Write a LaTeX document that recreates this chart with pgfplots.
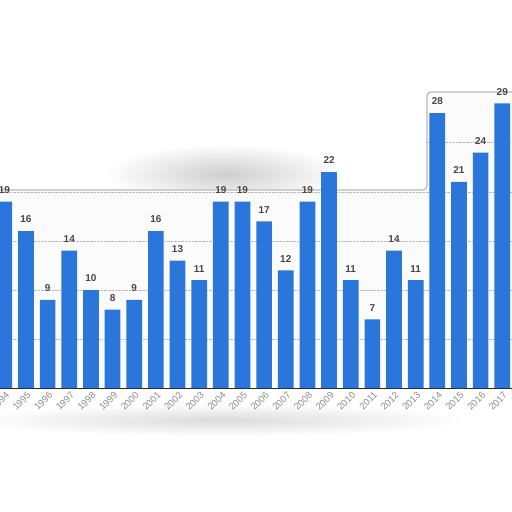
\documentclass[border=0pt]{standalone}
\usepackage{pgfplots}
\pgfplotsset{compat=1.18}
\usepackage{fontspec}
\setmainfont{Liberation Sans}
\definecolor{barblue}{HTML}{2B76DB}
\definecolor{labgray}{HTML}{474747}
\definecolor{tickgray}{HTML}{8A8A8A}
\newcommand{\yl}[1]{\mbox{#1}}
\begin{document}
\begin{tikzpicture}[x=1pt,y=1pt]
\useasboundingbox (0,0) rectangle (512,512);
\clip (0,0) rectangle (512,512);
% blurred shadow pieces
\begin{scope}
\clip (0,322) rectangle (427,420);
\shade[inner color=gray!38, outer color=white] (225,338) ellipse (120 and 30);
\end{scope}
\shade[inner color=gray!28, outer color=white] (220,92) ellipse (250 and 16);
\fill[gray!3] (0,126) rectangle (427,322);
\fill[gray!3] (427,126) rectangle (512,420);
\draw[gray!55, line width=1.2pt, rounded corners=4pt] (0,322) -- (427,322) -- (427,420) -- (512,420);
\begin{axis}[
  at={(0,126)}, anchor=south west,
  scale only axis, width=512pt, height=386pt,
  xmin=-0.2, xmax=23.45, ymin=0, ymax=39.3,
  ybar, bar width=15.7pt,
  axis x line*=bottom, axis y line*=left,
  y axis line style={draw=none},
  x axis line style={black!85, line width=0.9pt},
  ytick={5,10,15,20}, yticklabels={},
  ytick style={draw=none}, xtick style={draw=none},
  ymajorgrids, major grid style={densely dotted, gray!55},
  xtick={0,...,23},
  xticklabels={\yl{1994},\yl{1995},\yl{1996},\yl{1997},\yl{1998},\yl{1999},\yl{2000},\yl{2001},\yl{2002},\yl{2003},\yl{2004},\yl{2005},\yl{2006},\yl{2007},\yl{2008},\yl{2009},\yl{2010},\yl{2011},\yl{2012},\yl{2013},\yl{2014},\yl{2015},\yl{2016},\yl{2017}},
  xticklabel style={rotate=45, anchor=east, text=tickgray, font=\fontsize{9.5}{9.5}\selectfont, xshift=5pt, yshift=-3pt},
  nodes near coords={\pgfmathprintnumber[assume math mode=true]{\pgfplotspointmeta}},
  every node near coord/.append style={text=labgray, font=\bfseries\fontsize{10}{10}\selectfont, inner sep=0pt, yshift=8pt},
]
\draw[densely dotted, gray!55] (axis cs:19.5,25) -- (axis cs:23.45,25);
\addplot[fill=barblue, draw=none] coordinates {
  (0,19) (1,16) (2,9) (3,14) (4,10) (5,8) (6,9) (7,16) (8,13) (9,11)
  (10,19) (11,19) (12,17) (13,12) (14,19) (15,22) (16,11) (17,7)
  (18,14) (19,11) (20,28) (21,21) (22,24) (23,29)
};
\end{axis}
\end{tikzpicture}
\end{document}
